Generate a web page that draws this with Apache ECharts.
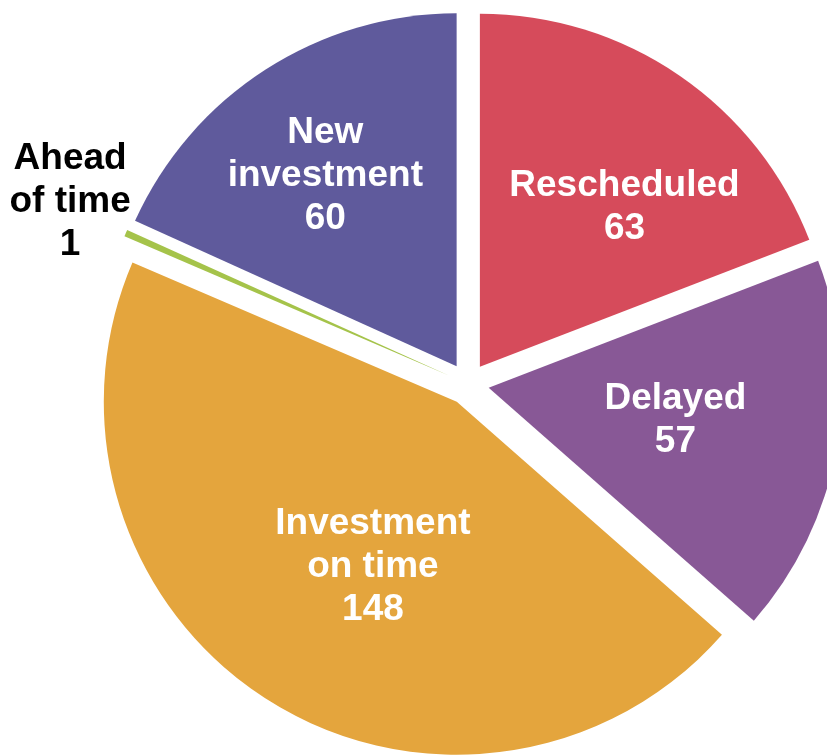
<!DOCTYPE html>
<html>
<head>
<meta charset="utf-8">
<script src="https://cdn.jsdelivr.net/npm/echarts@6/dist/echarts.min.js"></script>
<style>
  html, body { margin: 0; padding: 0; background: #ffffff; }
  #chart { width: 827px; height: 756px; }
</style>
</head>
<body>
<div id="chart"></div>
<script>
// Project status counts
const categories = ['Rescheduled', 'Delayed', 'Investment on time', 'Ahead of time', 'New investment'];
const labelTexts = ['Rescheduled', 'Delayed', 'Investment\non time', 'Ahead\nof time', 'New\ninvestment'];
const values = [63, 57, 148, 1, 60];

// Slice palette
const palette = ['#D64B5B', '#885896', '#E4A53D', '#A5C34A', '#5F5A9C'];

// Small label nudges (px) applied after ECharts places each label
const labelShift = [[43, -11], [10, 1], [12, 13], [10, -31], [-34, -40]];

const OUTSIDE = 3; // index of the slice whose label sits outside the pie

const data = categories.map((name, i) => {
  const item = {
    name: name,
    value: values[i],
    selected: true,
    itemStyle: { color: palette[i] }
  };
  if (i === OUTSIDE) {
    item.label = {
      position: 'outside',
      formatter: '{c|' + labelTexts[i] + '\n' + values[i] + '}',
      rich: {
        c: {
          align: 'center',
          color: '#000000',
          fontFamily: 'Liberation Sans, Arial, sans-serif',
          fontWeight: 'bold',
          fontSize: 37,
          lineHeight: 43
        }
      }
    };
    item.labelLine = { show: false, length: 0, length2: 0 };
  }
  return item;
});

const chart = echarts.init(document.getElementById('chart'), null, { renderer: 'canvas' });
chart.setOption({
  animation: false,
  backgroundColor: '#ffffff',
  series: [{
    type: 'pie',
    center: [468, 384],
    radius: 353,
    startAngle: 90,
    clockwise: true,
    selectedMode: 'multiple',
    selectedOffset: 21,
    avoidLabelOverlap: false,
    emphasis: { disabled: true },
    label: {
      show: true,
      position: 'inside',
      formatter: p => labelTexts[p.dataIndex] + '\n' + p.value,
      color: '#ffffff',
      fontFamily: 'Liberation Sans, Arial, sans-serif',
      fontWeight: 'bold',
      fontSize: 37,
      lineHeight: 43,
      align: 'center'
    },
    labelLine: { show: false },
    labelLayout: p => {
      const s = labelShift[p.dataIndex];
      return { dx: s[0], dy: s[1] };
    },
    data: data
  }]
});
</script>
</body>
</html>
